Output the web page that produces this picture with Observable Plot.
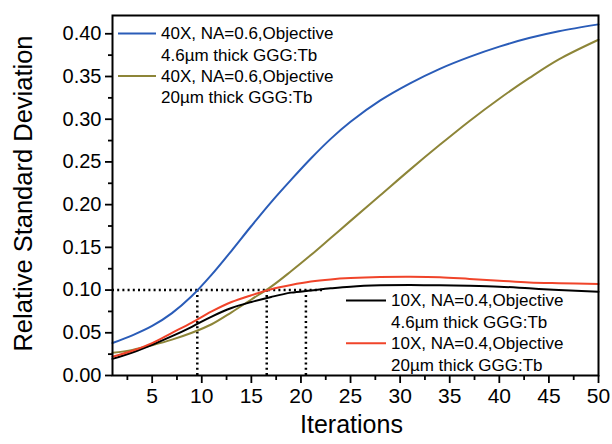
<!DOCTYPE html>
<html>
<head>
<meta charset="utf-8">
<script src="https://cdn.jsdelivr.net/npm/d3@7"></script>
<script src="https://cdn.jsdelivr.net/npm/@observablehq/plot@0.6"></script>
<style>
  html, body { margin: 0; padding: 0; background: #fff; }
  #chart { width: 612px; height: 444px; }
</style>
</head>
<body>
<div id="chart"></div>
<script>
// ---- data ----
const iterations = [1, 3, 5, 7, 9, 11, 13, 15, 17, 19, 21, 23, 25, 28, 31, 34, 37, 40, 43, 46, 50];
const blue40x46 = [0.038, 0.047, 0.058, 0.073, 0.093, 0.118, 0.146, 0.175, 0.203, 0.229, 0.254, 0.277, 0.297, 0.322, 0.342, 0.359, 0.373, 0.385, 0.395, 0.403, 0.411];
const olive40x20 = [0.0265, 0.030, 0.0355, 0.042, 0.050, 0.060, 0.074, 0.089, 0.104, 0.122, 0.141, 0.161, 0.181, 0.211, 0.241, 0.270, 0.298, 0.324, 0.348, 0.370, 0.393];
const black10x46 = [0.0195, 0.027, 0.036, 0.046, 0.057, 0.069, 0.079, 0.086, 0.092, 0.097, 0.0995, 0.102, 0.104, 0.1055, 0.106, 0.1055, 0.105, 0.104, 0.102, 0.100, 0.098];
const red10x20 = [0.022, 0.029, 0.038, 0.050, 0.062, 0.075, 0.086, 0.094, 0.101, 0.106, 0.110, 0.1125, 0.114, 0.1152, 0.1155, 0.115, 0.113, 0.111, 0.109, 0.108, 0.107];

const seriesNames = [
  "40X, NA=0.6,Objective 4.6µm thick GGG:Tb",
  "40X, NA=0.6,Objective 20µm thick GGG:Tb",
  "10X, NA=0.4,Objective 4.6µm thick GGG:Tb",
  "10X, NA=0.4,Objective 20µm thick GGG:Tb"
];
const seriesColors = ["#2a5cb8", "#8d8538", "#000000", "#f0442a"];
const seriesValues = [blue40x46, olive40x20, black10x46, red10x20];

const legendTop = [["40X, NA=0.6,Objective", "4.6µm thick GGG:Tb"], ["40X, NA=0.6,Objective", "20µm thick GGG:Tb"]];
const legendBottom = [["10X, NA=0.4,Objective", "4.6µm thick GGG:Tb"], ["10X, NA=0.4,Objective", "20µm thick GGG:Tb"]];

const yTicks = [0, 0.05, 0.10, 0.15, 0.20, 0.25, 0.30, 0.35, 0.40];
const yMinor = [0.025, 0.075, 0.125, 0.175, 0.225, 0.275, 0.325, 0.375];
const xTicks = [5, 10, 15, 20, 25, 30, 35, 40, 45, 50];
const xMinor = [2.5, 7.5, 12.5, 17.5, 22.5, 27.5, 32.5, 37.5, 42.5, 47.5];

const refLevel = 0.10;
const refLevelEnd = 22.3;
const refCrossings = [9.55, 16.55, 20.5];

const xTitle = "Iterations";
const yTitle = "Relative Standard Deviation";

// ---- build table ----
const rows = [];
seriesValues.forEach((vals, s) => {
  vals.forEach((v, i) => rows.push({series: seriesNames[s], x: iterations[i], y: v}));
});

const font = "'Liberation Sans', Arial, sans-serif";

const plot = Plot.plot({
  width: 612,
  height: 444,
  marginLeft: 112,
  marginRight: 14,
  marginTop: 15,
  marginBottom: 69,
  style: {fontFamily: font, color: "#000", background: "#fff"},
  x: {domain: [1, 50]},
  y: {domain: [0, 0.4214]},
  color: {domain: seriesNames, range: seriesColors},
  marks: [
    Plot.ruleY([refLevel], {x1: 1, x2: refLevelEnd, stroke: "#000", strokeWidth: 2.5, strokeDasharray: "2,3.2"}),
    Plot.ruleX(refCrossings, {y1: 0, y2: refLevel, stroke: "#000", strokeWidth: 2.5, strokeDasharray: "2,3.2"}),
    Plot.line(rows, {x: "x", y: "y", z: "series", stroke: "series", strokeWidth: 2, curve: "catmull-rom"}),
    Plot.axisY({ticks: yTicks, tickSize: 7, tickPadding: 4, tickFormat: d3.format(".2f"), fontSize: 20, label: null, strokeWidth: 1.8}),
    Plot.axisY({ticks: yMinor, tickSize: 4, tickFormat: () => "", label: null, strokeWidth: 1.8}),
    Plot.axisX({ticks: xTicks, tickSize: 8, tickPadding: 5, fontSize: 21, label: null, strokeWidth: 1.8}),
    Plot.axisX({ticks: xMinor, tickSize: 5, tickFormat: () => "", label: null, strokeWidth: 1.8}),
    Plot.frame({stroke: "#000", strokeWidth: 2}),
    Plot.text([yTitle], {frameAnchor: "left", textAnchor: "middle", dx: -89, dy: -2, rotate: -90, text: d => d, fontSize: 25.5, fill: "#000"}),
    Plot.text([xTitle], {frameAnchor: "bottom", textAnchor: "middle", dx: -4, dy: 57, text: d => d, fontSize: 25, fill: "#000"})
  ]
});

document.getElementById("chart").appendChild(plot);

// ---- legends (layout only) ----
const svg = d3.select(plot);
function drawLegend(entries, colors, lineX1, lineX2, textX, y0, step) {
  const g = svg.append("g").attr("font-family", font).attr("font-size", 17)
    .attr("fill", "#000").attr("text-anchor", "start");
  entries.forEach((lines, i) => {
    const y = y0 + i * 2 * step;
    g.append("line").attr("x1", lineX1).attr("x2", lineX2).attr("y1", y).attr("y2", y)
      .attr("stroke", colors[i]).attr("stroke-width", 2);
    lines.forEach((t, j) => {
      g.append("text").attr("x", textX).attr("y", y + j * step).attr("dy", "0.35em")
        .attr("text-anchor", "start").text(t);
    });
  });
}
drawLegend(legendTop, [seriesColors[0], seriesColors[1]], 118, 156, 161, 33.5, 21.3);
drawLegend(legendBottom, [seriesColors[2], seriesColors[3]], 346, 386, 391, 300.5, 21.4);
</script>
</body>
</html>
